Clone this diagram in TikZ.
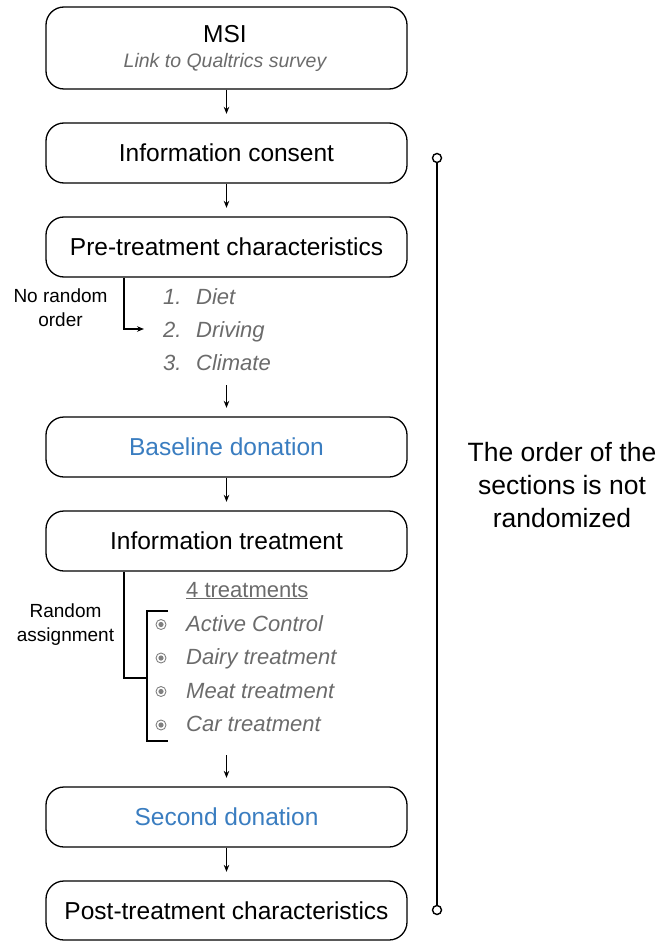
\documentclass[tikz,border=0pt]{standalone}
\usepackage{fontspec}
\setmainfont{Liberation Sans}
\usetikzlibrary{arrows.meta,positioning,calc}
\definecolor{donblue}{HTML}{3A7DC0}
\definecolor{itemgray}{HTML}{6B6B6B}

\begin{document}
\begin{tikzpicture}[x=1pt, y=-1pt,
    stage/.style={draw, rounded corners=18pt, line width=1.3pt, minimum width=361pt, minimum height=60pt, align=center, font=\fontsize{24.5}{29}\selectfont},
    flow/.style={-{Stealth[length=7pt,width=5.5pt]}, line width=1.1pt, shorten >=8.5pt},
    note/.style={align=center, font=\fontsize{19}{24}\selectfont},
    item/.style={anchor=base west, inner sep=0pt, text=itemgray, font=\fontsize{22}{26}\selectfont\itshape},
    radio/.style={circle, draw=gray, line width=0.9pt, minimum size=10pt, inner sep=0pt, path picture={\fill[gray] (path picture bounding box.center) circle (2.6pt);}},
    pin/.style={circle, draw, line width=1.4pt, fill=white, minimum size=9pt, inner sep=0pt},
]
\useasboundingbox (0,0) rectangle (659,941);

\node[stage, minimum height=82pt] (msi) at (226.5,48) {};
\node[anchor=base, inner sep=0pt, font=\fontsize{24.5}{29}\selectfont] (msititle) at (225,43) {MSI};
\node[anchor=base, inner sep=0pt, text=itemgray, font=\fontsize{19.5}{24}\selectfont\itshape] (survey) at (225,68) {Link to Qualtrics survey};

\node[stage] (consent) at (226.5,153) {Information consent};
\node[stage] (pre) at (226.5,247) {Pre-treatment characteristics};
\node[stage, text=donblue] (baseline) at (226.5,447) {Baseline donation};
\node[stage] (treat) at (226.5,541) {Information treatment};
\node[stage, text=donblue] (second) at (226.5,817) {Second donation};
\node[stage, minimum height=59pt] (post) at (226.5,910.5) {Post-treatment characteristics};

\node[item] (diet) at (163,304) {\makebox[33pt][l]{1.}Diet};
\node[item] (driving) at (163,337) {\makebox[33pt][l]{2.}Driving};
\node[item] (climate) at (163,370) {\makebox[33pt][l]{3.}Climate};
\node[note] (norandom) at (60.5,308) {No random\\order};
\coordinate (ordertip) at (144,329);
\draw[-{Stealth[length=7pt,width=5.5pt]}, line width=1.1pt] ([xshift=-102.5pt]pre.south) |- (ordertip);

\node[anchor=base west, inner sep=0pt, text=itemgray, font=\fontsize{22}{26}\selectfont] (count) at (186,597) {\underline{4 treatments}};
\node[item] (control) at (186,631) {Active Control};
\node[item] (dairy) at (186,664.5) {Dairy treatment};
\node[item] (meat) at (186,698) {Meat treatment};
\node[item] (car) at (186,731.5) {Car treatment};
\node[radio] (controldot) at (161,624.5) {};
\node[radio] (dairydot) at (161,658) {};
\node[radio] (meatdot) at (161,691.5) {};
\node[radio] (cardot) at (161,725) {};
\node[note] (random) at (65.5,625) {Random\\assignment};
\coordinate (brtop) at (168,611);
\coordinate (brbot) at (168,741);
\coordinate (brmid) at (147,678);
\draw[line width=1.2pt] (brtop) -- ++(-21,0) |- (brbot);
\draw[line width=1.2pt] ([xshift=-102.5pt]treat.south) |- (brmid);

\coordinate (listend) at (226.5,385);
\coordinate (treatend) at (226.5,755);
\draw[flow] (msi) -- (consent);
\draw[flow] (consent) -- (pre);
\draw[flow] (listend) -- (baseline);
\draw[flow] (baseline) -- (treat);
\draw[flow] (treatend) -- (second);
\draw[flow] (second) -- (post);

\node[pin] (ordertop) at (437,158) {};
\node[pin] (orderbot) at (437,910) {};
\draw[line width=1.4pt] (ordertop) -- (orderbot);
\node[align=center, font=\fontsize{26.5}{33}\selectfont] (ordernote) at (562,485.5) {The order of the\\sections is not\\randomized};
\end{tikzpicture}
\end{document}
